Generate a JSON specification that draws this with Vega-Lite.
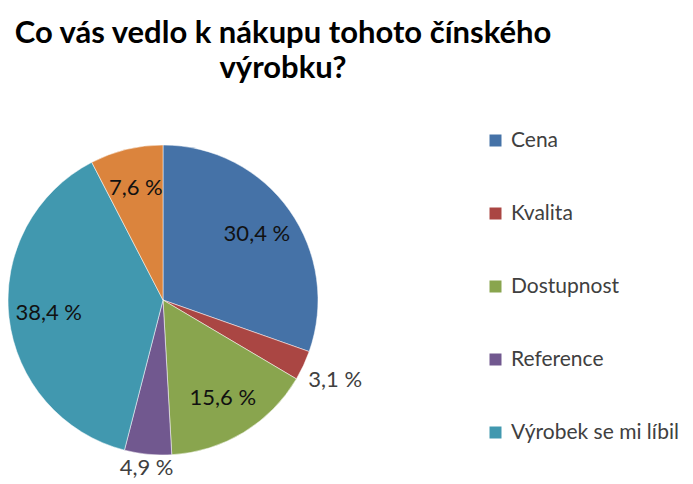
{
  "$schema": "https://vega.github.io/schema/vega-lite/v6.json",
  "width": 310,
  "height": 310,
  "autosize": "none",
  "padding": {"left": 8, "top": 145, "right": 375, "bottom": 29},
  "background": "white",
  "config": {
    "view": {"stroke": null},
    "locale": {
      "number": {"decimal": ",", "thousands": " ", "grouping": [3], "currency": ["", " Kč"], "percent": " %"}
    }
  },
  "title": {
    "text": ["Co vás vedlo k nákupu tohoto čínského", "výrobku?"],
    "anchor": "middle",
    "dx": 120,
    "dy": 6,
    "offset": 25,
    "font": "Lato",
    "fontSize": 31,
    "fontWeight": "bold",
    "color": "#000000",
    "lineHeight": 35
  },
  "data": {
    "values": [
      {"cat": "Cena", "value": 0.304, "ord": 1},
      {"cat": "Kvalita", "value": 0.031, "ord": 2},
      {"cat": "Dostupnost", "value": 0.156, "ord": 3},
      {"cat": "Reference", "value": 0.049, "ord": 4},
      {"cat": "Výrobek se mi líbil", "value": 0.384, "ord": 5},
      {"cat": "Jiné", "value": 0.076, "ord": 6}
    ]
  },
  "encoding": {
    "theta": {"field": "value", "type": "quantitative", "stack": true},
    "order": {"field": "ord", "type": "quantitative"}
  },
  "layer": [
    {
      "mark": {"type": "arc", "stroke": "white", "strokeWidth": 0.5},
      "encoding": {
        "color": {
          "field": "cat",
          "type": "nominal",
          "scale": {
            "domain": ["Cena", "Kvalita", "Dostupnost", "Reference", "Výrobek se mi líbil", "Jiné"],
            "range": ["#4572A7", "#AA4643", "#89A54E", "#71588F", "#4198AF", "#DB843D"]
          },
          "legend": {
            "values": ["Cena", "Kvalita", "Dostupnost", "Reference", "Výrobek se mi líbil"],
            "title": null,
            "orient": "none",
            "legendX": 477,
            "legendY": -15,
            "symbolType": "square",
            "symbolSize": 144,
            "symbolStrokeWidth": 0,
            "labelFont": "Lato",
            "labelFontSize": 21,
            "labelColor": "#404040",
            "labelOffset": 5,
            "rowPadding": 51,
            "labelLimit": 250
          }
        }
      }
    },
    {
      "mark": {"type": "text", "radius": 115, "font": "Lato", "fontSize": 22, "color": "#111111"},
      "encoding": {
        "text": {
          "condition": {"test": "datum.ord == 1 || datum.ord == 3 || datum.ord == 5 || datum.ord == 6", "field": "value", "type": "quantitative", "format": ".1%"},
          "value": ""
        }
      }
    },
    {
      "mark": {"type": "text", "radius": 190, "font": "Lato", "fontSize": 22, "color": "#404040"},
      "encoding": {
        "text": {
          "condition": {"test": "datum.ord == 2", "field": "value", "type": "quantitative", "format": ".1%"},
          "value": ""
        }
      }
    },
    {
      "mark": {"type": "text", "radius": 169, "font": "Lato", "fontSize": 22, "color": "#404040"},
      "encoding": {
        "text": {
          "condition": {"test": "datum.ord == 4", "field": "value", "type": "quantitative", "format": ".1%"},
          "value": ""
        }
      }
    }
  ]
}
